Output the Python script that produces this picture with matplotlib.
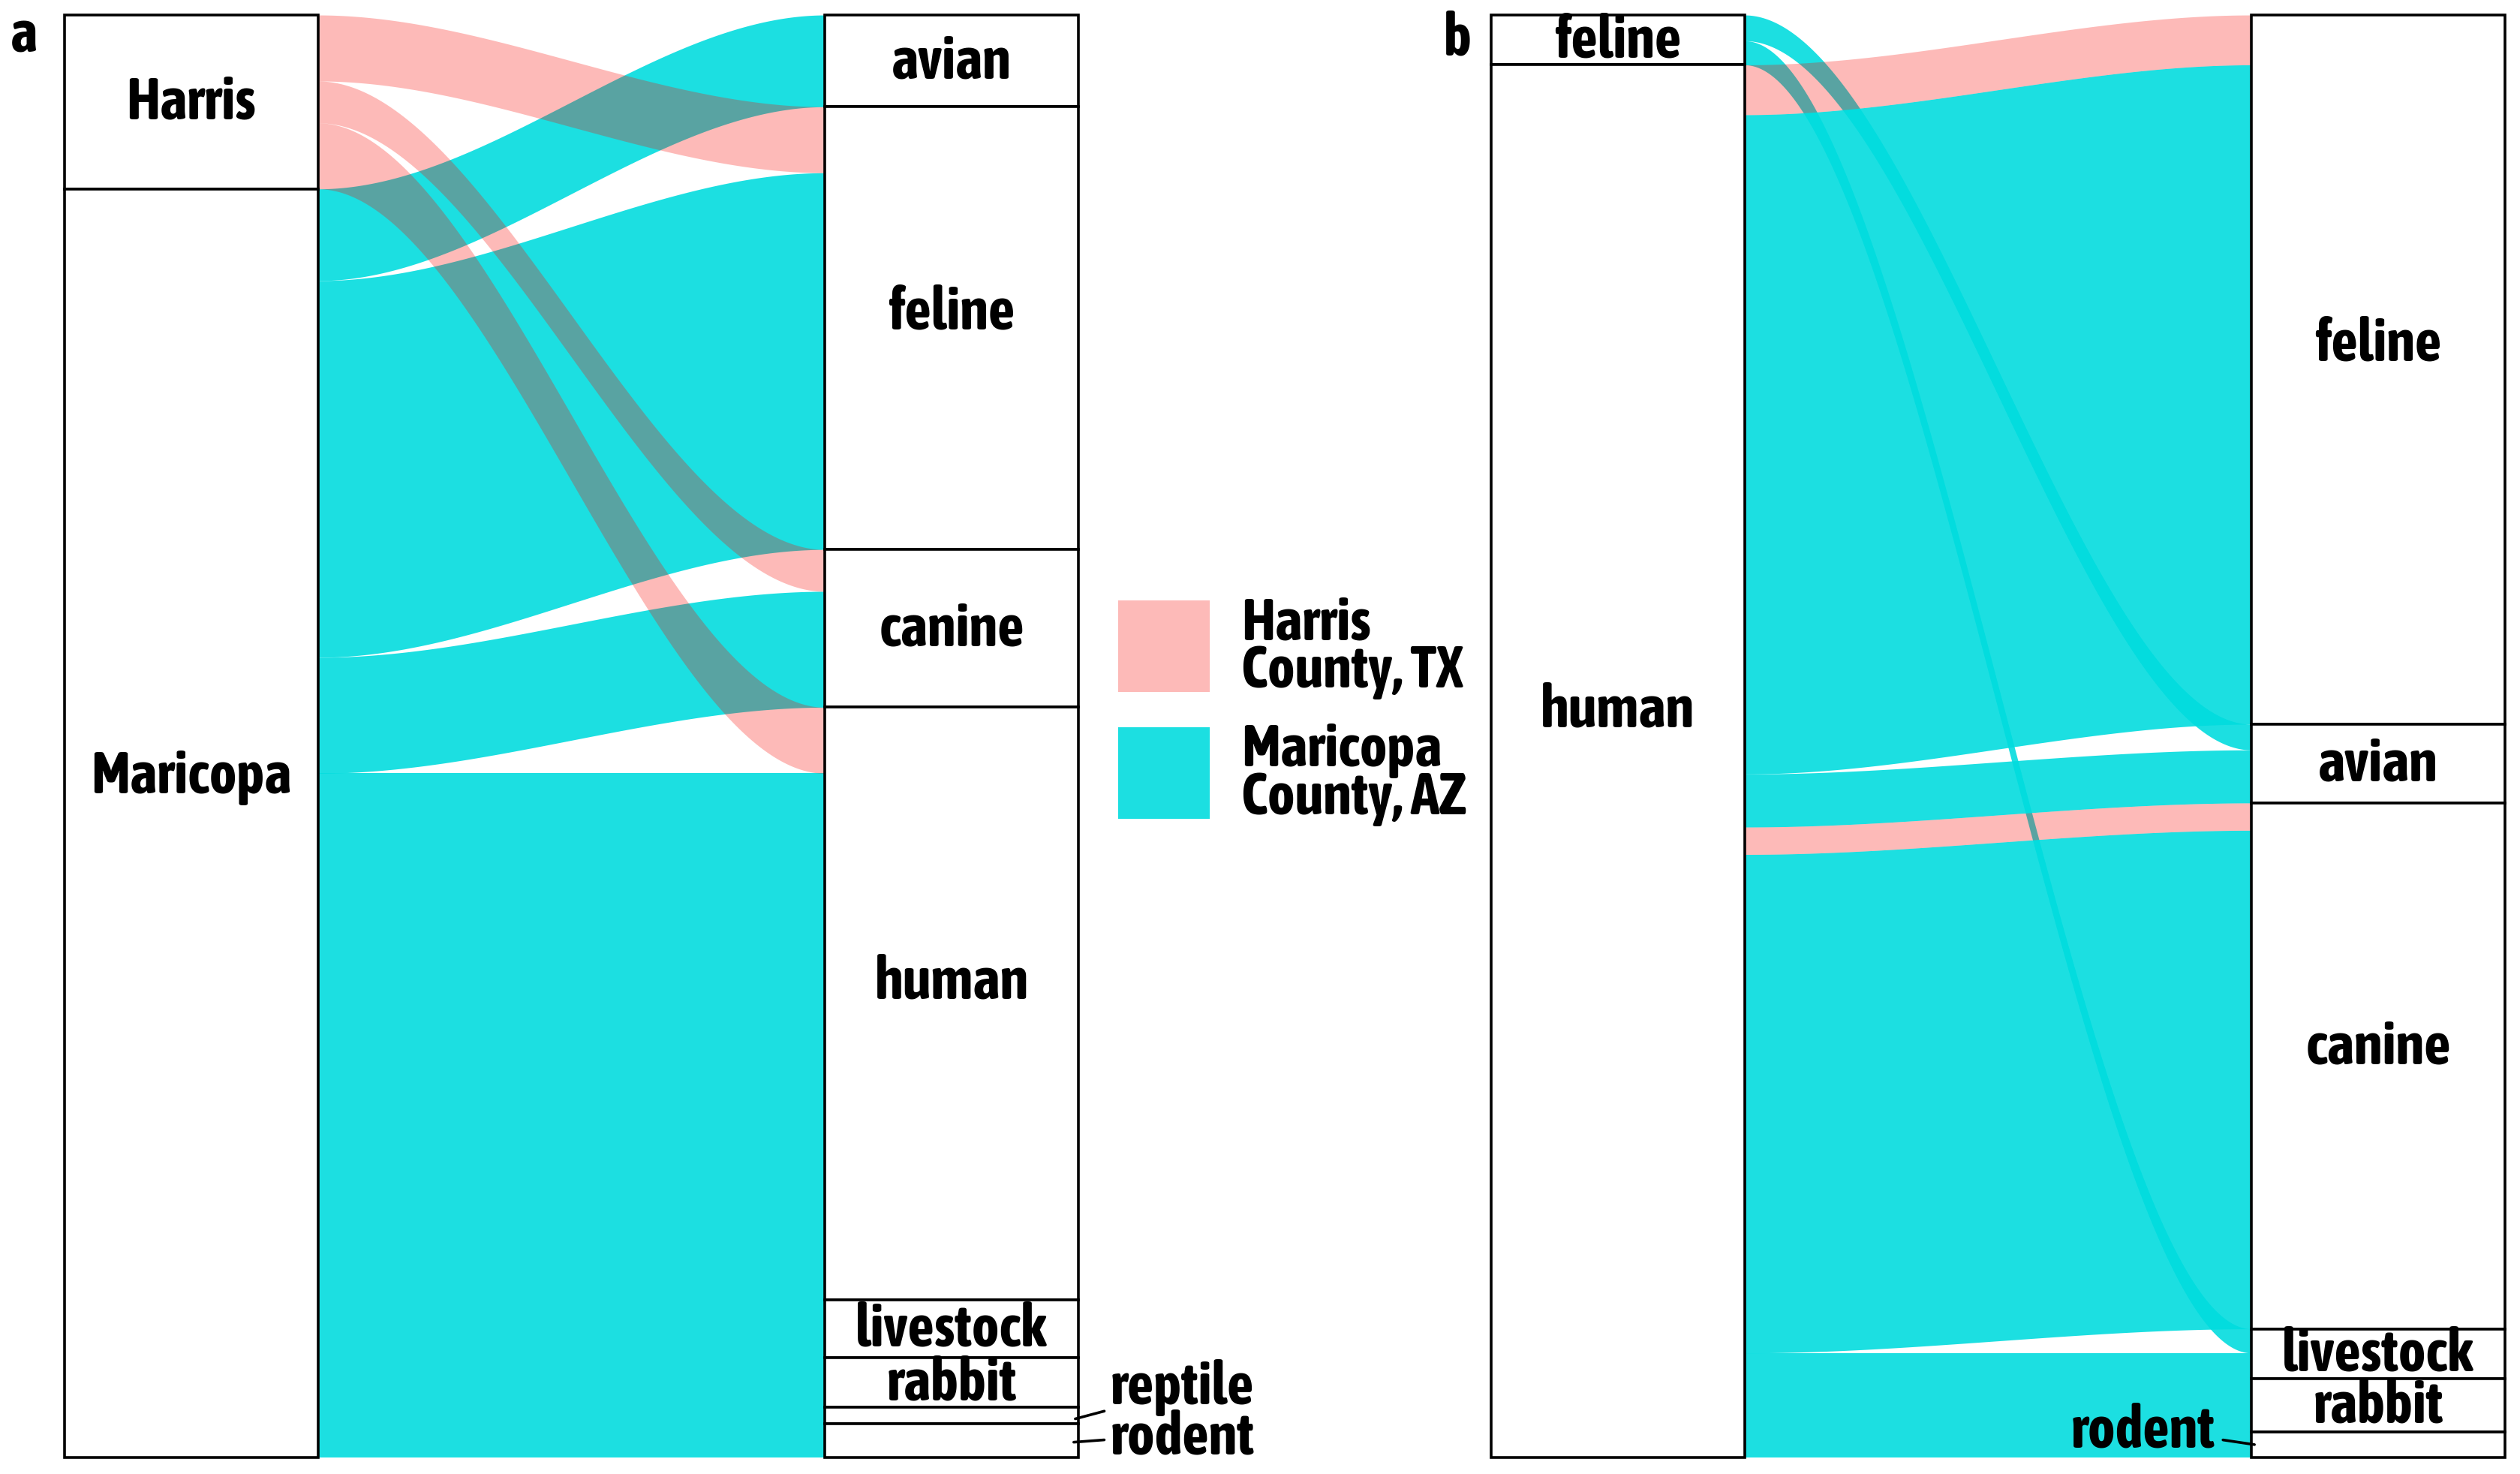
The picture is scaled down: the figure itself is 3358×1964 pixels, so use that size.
import matplotlib
matplotlib.use("Agg")
import matplotlib.pyplot as plt
from matplotlib import font_manager
from matplotlib.patches import Rectangle
import numpy as np

# ---------------- data ----------------
county_order = ["Harris", "Maricopa"]

# panel a: county -> exposure species
a_origin = ["Harris", "Harris", "Harris",
            "Maricopa", "Maricopa", "Maricopa", "Maricopa",
            "Maricopa", "Maricopa", "Maricopa", "Maricopa"]
a_dest = ["feline", "canine", "human",
          "avian", "feline", "canine", "human",
          "livestock", "rabbit", "reptile", "rodent"]
a_county = list(a_origin)
a_count = [41, 26, 41, 57, 234, 72, 327, 36, 31, 10, 21]
a_left_order = ["Harris", "Maricopa"]
a_right_order = ["avian", "feline", "canine", "human",
                 "livestock", "rabbit", "reptile", "rodent"]

# panel b: source species -> target species
b_origin = ["feline", "feline", "human", "human", "human",
            "human", "human", "human", "human", "human"]
b_dest = ["avian", "livestock", "feline", "feline", "avian",
          "canine", "canine", "livestock", "rabbit", "rodent"]
b_county = ["Maricopa", "Maricopa", "Harris", "Maricopa", "Maricopa",
            "Harris", "Maricopa", "Maricopa", "Maricopa", "Maricopa"]
b_count = [16, 15, 31, 410, 33, 17, 310, 16, 33, 16]
b_left_order = ["feline", "human"]
b_right_order = ["feline", "avian", "canine", "livestock", "rabbit", "rodent"]

legend_labels = ["Harris\nCounty, TX", "Maricopa\nCounty, AZ"]

# ---------------- style ----------------
# condensed bold face, first one found
font_file = None
for wanted in ["AsapCondensed-Bold.ttf", "EncodeSansCondensed-Bold.ttf",
               "DejaVuSansCondensed-Bold.ttf"]:
    hits = [f.fname for f in font_manager.fontManager.ttflist if f.fname.endswith("/" + wanted)]
    if hits:
        font_file = hits[0]
        break
if font_file:
    FONT = dict(fontproperties=font_manager.FontProperties(fname=font_file, size=28))
else:
    FONT = dict(family="DejaVu Sans", weight="bold", size=28)

county_color = {"Harris": "#FA0A00", "Maricopa": "#00DCDE"}
county_alpha = {"Harris": 0.28, "Maricopa": 0.89}
W = 1 / 3  # stratum width
LW = 1.3


def stratum_spans(order, keys, counts):
    spans = {}
    y = 0
    for s in order:
        h = sum(c for k, c in zip(keys, counts) if k == s)
        spans[s] = (y, y + h)
        y += h
    return spans


def flow_spans(own, own_order, other, other_order, county, counts):
    # stack flows inside each stratum: by stratum, then other side, then county
    idx = sorted(range(len(counts)),
                 key=lambda i: (own_order.index(own[i]),
                                other_order.index(other[i]),
                                county_order.index(county[i])))
    pos = {}
    y = 0
    for i in idx:
        pos[i] = (y, y + counts[i])
        y += counts[i]
    return pos


def draw_alluvial(ax, origin, left_order, dest, right_order, county, counts, label_skip):
    total = sum(counts)
    left_pos = flow_spans(origin, left_order, dest, right_order, county, counts)
    right_pos = flow_spans(dest, right_order, origin, left_order, county, counts)

    x0, x1 = 1 + W / 2, 2 - W / 2
    xs = np.linspace(x0, x1, 300)
    t = (xs - x0) / (x1 - x0)
    s = t * t * (3 - 2 * t)

    # Maricopa first, Harris drawn over it
    for c_name, z in [("Maricopa", 1), ("Harris", 2)]:
        for i in range(len(counts)):
            if county[i] != c_name:
                continue
            l0, l1 = left_pos[i]
            r0, r1 = right_pos[i]
            top = l0 + (r0 - l0) * s
            bot = l1 + (r1 - l1) * s
            ax.fill_between(xs, top, bot, color=county_color[c_name],
                            alpha=county_alpha[c_name], lw=0, zorder=z)

    # strata boxes + labels
    for xc, order, keys in [(1, left_order, origin), (2, right_order, dest)]:
        spans = stratum_spans(order, keys, counts)
        for name, (y0, y1) in spans.items():
            ax.add_patch(Rectangle((xc - W / 2, y0), W, y1 - y0, facecolor="white",
                                   edgecolor="black", lw=LW, zorder=3, clip_on=False))
            if name in label_skip.get(xc, []):
                continue
            h = y1 - y0
            yl = (y0 + y1) / 2 - (0.037 * h if h > 200 else 0)
            ax.text(xc, yl, name, ha="center", va="center", zorder=4, **FONT)

    ax.set_xlim(1 - W / 2, 2 + W / 2)
    ax.set_ylim(total, 0)
    ax.axis("off")
    return stratum_spans(right_order, dest, counts)


fig = plt.figure(figsize=(16.79, 9.825), dpi=200)
ax_a = fig.add_axes([0.0256, 0.0112, 0.4023, 0.9781])
ax_b = fig.add_axes([0.5917, 0.0112, 0.4023, 0.9781])

# ---------------- panel a ----------------
spans_a = draw_alluvial(ax_a, a_origin, a_left_order, a_dest, a_right_order,
                        a_county, a_count, {2: ["reptile", "rodent"]})
edge = 2 + W / 2
y0, y1 = spans_a["reptile"]
ax_a.annotate("reptile", xy=(edge - 0.004, (y0 + y1) / 2 + 2), xytext=(2.209, y0 - 13),
              ha="left", va="center", annotation_clip=False,
              arrowprops=dict(arrowstyle="-", lw=LW, relpos=(0, 0.1),
                              shrinkA=1, shrinkB=0), **FONT)
y0, y1 = spans_a["rodent"]
ax_a.annotate("rodent", xy=(edge - 0.006, (y0 + y1) / 2 + 1), xytext=(2.209, y0 + 8),
              ha="left", va="center", annotation_clip=False,
              arrowprops=dict(arrowstyle="-", lw=LW, relpos=(0, 0.45),
                              shrinkA=1, shrinkB=0), **FONT)

# ---------------- panel b ----------------
spans_b = draw_alluvial(ax_b, b_origin, b_left_order, b_dest, b_right_order,
                        b_county, b_count, {2: ["rodent"]})
y0, y1 = spans_b["rodent"]
ax_b.annotate("rodent", xy=(2 - W / 2 + 0.004, (y0 + y1) / 2), xytext=(1.785, y0 - 1),
              ha="right", va="center", annotation_clip=False,
              arrowprops=dict(arrowstyle="-", lw=LW, relpos=(1, 0.35),
                              shrinkA=2, shrinkB=0), **FONT)

# ---------------- legend ----------------
sq_w, sq_h = 122 / 3358, 122 / 1965
for c_name, label, yc in zip(county_order, legend_labels, [0.5613, 0.4753]):
    fig.add_artist(Rectangle((0.4438, yc - sq_h / 2), sq_w, sq_h,
                             transform=fig.transFigure,
                             facecolor=county_color[c_name],
                             alpha=county_alpha[c_name], lw=0))
    fig.text(0.4925, yc, label, ha="left", va="center", linespacing=0.8, **FONT)

# panel tags
fig.text(0.004, 0.995, "a", ha="left", va="top", **FONT)
fig.text(0.573, 0.993, "b", ha="left", va="top", **FONT)

fig.savefig("out.png", dpi=200)
